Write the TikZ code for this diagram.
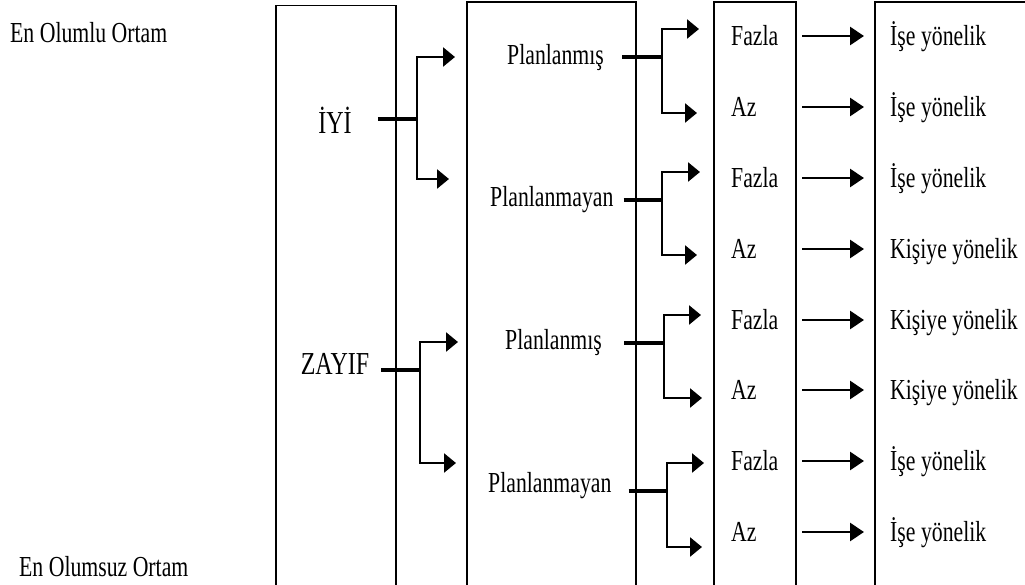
\documentclass[tikz,border=0pt]{standalone}
\usepackage{fontspec}
\setmainfont{Liberation Serif}[FakeStretch=0.75]
\usetikzlibrary{arrows.meta}
\begin{document}
\begin{tikzpicture}[x=1pt,y=-1pt,
  box/.style={line width=1.3pt},
  stem/.style={line width=3.4pt},
  arr/.style={line width=2.5pt,-{Triangle[length=12pt,width=19pt]}},
  rarr/.style={line width=2.8pt,-{Triangle[length=14pt,width=18pt]}},
  lbl/.style={inner sep=0pt,text height=19.5pt,text depth=0pt,font=\fontsize{29}{32}\selectfont},
  big/.style={inner sep=0pt,text height=21pt,text depth=0pt,font=\fontsize{32}{36}\selectfont}]
\useasboundingbox (0,0) rectangle (1025,584);
\clip (0,0) rectangle (1025,584);
% boxes
\draw[box] (276,590) -- (276,5.5) -- (396,5.5) -- (396,590);
\draw[box] (467,590) -- (467,2) -- (636,2) -- (636,590);
\draw[box] (714,590) -- (714,2) -- (796,2) -- (796,590);
\draw[box] (875,590) -- (875,2) -- (1035,2);
% side labels
\node[lbl,anchor=west] (eo) at (10,32.5) {En Olumlu Ortam};
\node[lbl,anchor=west] (es) at (19,567) {En Olumsuz Ortam};
% level 1
\node[big] (iyi) at (335,123) {İYİ};
\node[big] (zayif) at (335,364) {ZAYIF};
% level 2
\node[lbl,anchor=west] (pl1) at (507,55) {Planlanmış};
\node[lbl,anchor=west] (pm1) at (490,197) {Planlanmayan};
\node[lbl,anchor=west] (pl2) at (505,340) {Planlanmış};
\node[lbl,anchor=west] (pm2) at (488,483) {Planlanmayan};
% level 3
\node[lbl,anchor=west] (f1) at (731,36) {Fazla};
\node[lbl,anchor=west] (a1) at (731,107) {Az};
\node[lbl,anchor=west] (f2) at (731,178) {Fazla};
\node[lbl,anchor=west] (a2) at (731,249) {Az};
\node[lbl,anchor=west] (f3) at (731,320) {Fazla};
\node[lbl,anchor=west] (a3) at (731,390) {Az};
\node[lbl,anchor=west] (f4) at (731,461) {Fazla};
\node[lbl,anchor=west] (a4) at (731,532) {Az};
% level 4
\node[lbl,anchor=west] (o1) at (890,36) {İşe yönelik};
\node[lbl,anchor=west] (o2) at (890,107) {İşe yönelik};
\node[lbl,anchor=west] (o3) at (890,178) {İşe yönelik};
\node[lbl,anchor=west] (o4) at (890,249) {Kişiye yönelik};
\node[lbl,anchor=west] (o5) at (890,320) {Kişiye yönelik};
\node[lbl,anchor=west] (o6) at (890,390) {Kişiye yönelik};
\node[lbl,anchor=west] (o7) at (890,461) {İşe yönelik};
\node[lbl,anchor=west] (o8) at (890,532) {İşe yönelik};
% branch points and tips
\coordinate (bI) at (417,119);
\coordinate (tIa) at (455,57);
\coordinate (tIb) at (449,179);
\coordinate (bZ) at (420,370);
\coordinate (tZa) at (458,342);
\coordinate (tZb) at (456,463);
\coordinate (b1) at (662,57);
\coordinate (t1a) at (699,29);
\coordinate (t1b) at (697,113);
\coordinate (b2) at (662,200);
\coordinate (t2a) at (700,172);
\coordinate (t2b) at (697,255);
\coordinate (b3) at (664,343);
\coordinate (t3a) at (701,315);
\coordinate (t3b) at (702,398);
\coordinate (b4) at (667,491);
\coordinate (t4a) at (704,463);
\coordinate (t4b) at (702,547);
\coordinate (ax) at (802,0);
\coordinate (bx) at (864,0);
% level 1 connectors
\draw[stem] ([shift={(26,-4)}]iyi.east) -- (bI);
\draw[arr] (bI) |- (tIa);
\draw[arr] (bI) |- (tIb);
\draw[stem] ([shift={(12,6)}]zayif.east) -- (bZ);
\draw[arr] (bZ) |- (tZa);
\draw[arr] (bZ) |- (tZb);
% level 2 connectors
\draw[stem] ([shift={(18,2)}]pl1.east) -- (b1);
\draw[arr] (b1) |- (t1a);
\draw[arr] (b1) |- (t1b);
\draw[stem] ([shift={(10,3)}]pm1.east) -- (b2);
\draw[arr] (b2) |- (t2a);
\draw[arr] (b2) |- (t2b);
\draw[stem] ([shift={(22,3)}]pl2.east) -- (b3);
\draw[arr] (b3) |- (t3a);
\draw[arr] (b3) |- (t3b);
\draw[stem] ([shift={(17,8)}]pm2.east) -- (b4);
\draw[arr] (b4) |- (t4a);
\draw[arr] (b4) |- (t4b);
% level 3 to level 4
\foreach \s/\t in {f1/o1,a1/o2,f2/o3,a2/o4,f3/o5,a3/o6,f4/o7,a4/o8}
  \draw[rarr] (\s.west -| ax) -- (\t.west -| bx);
\end{tikzpicture}
\end{document}
